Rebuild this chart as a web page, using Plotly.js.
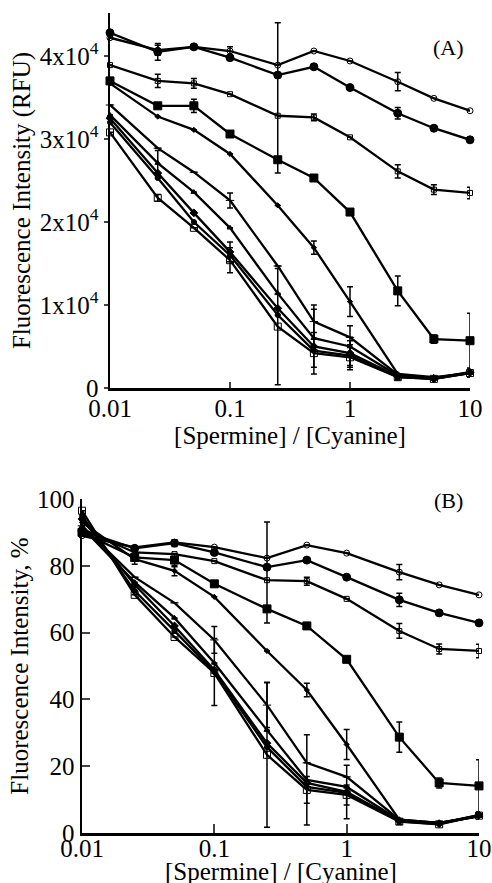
<!DOCTYPE html>
<html>
<head>
<meta charset="utf-8">
<script src="https://cdn.plot.ly/plotly-3.0.1.min.js"></script>
<style>html,body{margin:0;padding:0;background:#fff;}#chart{width:492px;height:883px;}</style>
</head>
<body>
<div id="chart"></div>
<script>
// Ratio [Spermine]/[Cyanine]
const ratio = [0.01, 0.025, 0.05, 0.1, 0.25, 0.5, 1, 2.5, 5, 10];

// Panel A: fluorescence intensity (RFU)
const rfuS1 = [42200, 40700, 41100, 40600, 38900, 40600, 39400, 36900, 34900, 33400];
const rfuS2 = [42800, 40500, 41100, 39800, 37700, 38700, 36200, 33100, 31300, 29900];
const rfuS3 = [38900, 37000, 36700, 35400, 32800, 32600, 30200, 26100, 23900, 23500];
const rfuS4 = [37000, 34000, 34000, 30600, 27500, 25300, 21200, 11700, 5900, 5700];
const rfuS5 = [36700, 32700, 31100, 28200, 22000, 16900, 10400, 1700, 1300, 1800];
const rfuS6 = [34100, 28900, 26000, 22600, 14700, 8000, 6100, 1600, 1200, 1900];
const rfuS7 = [32900, 27100, 23600, 19300, 11400, 6000, 5000, 1500, 1200, 1800];
const rfuS8 = [32500, 25900, 21100, 16400, 9600, 5000, 4200, 1400, 1100, 1900];
const rfuS9 = [32000, 25300, 20000, 16000, 8800, 4500, 3900, 1300, 1100, 1800];
const rfuS10 = [30800, 22900, 19300, 15400, 7400, 4200, 3700, 1300, 1100, 1800];

// Panel A error bars (plus / minus)
const rfuErrS1 = [0, 600, 0, 500, 0, 0, 0, 1100, 0, 0];
const rfuErrS2 = [0, 1000, 0, 0, 0, 0, 0, 700, 0, 0];
const rfuErrS3p = [0, 800, 600, 0, 11200, 400, 0, 800, 600, 700];
const rfuErrS3m = [0, 800, 600, 0, 6900, 400, 0, 800, 600, 700];
const rfuErrS4 = [0, 0, 800, 0, 0, 0, 0, 1800, 500, 3300];
const rfuErrS5 = [0, 0, 0, 0, 0, 800, 1800, 0, 0, 0];
const rfuErrS6 = [0, 0, 0, 900, 0, 2000, 0, 0, 0, 0];
const rfuErrS7 = [0, 1500, 0, 0, 0, 3500, 2500, 0, 0, 0];
const rfuErrS8 = [0, 0, 0, 1200, 0, 0, 1500, 0, 0, 0];
const rfuErrS9 = [0, 0, 0, 0, 0, 0, 0, 0, 0, 0];
const rfuErrS10 = [0, 400, 0, 1500, 7000, 2500, 1500, 300, 0, 500];

// Panel B: fluorescence intensity (%)
const pctS1 = [89, 85.5, 87, 85.6, 82.3, 86.2, 83.8, 78.1, 74.3, 71.3];
const pctS2 = [90.5, 85.2, 86.8, 84, 79.6, 81.7, 76.6, 69.8, 65.9, 62.9];
const pctS3 = [91, 84, 83.5, 81.4, 75.7, 75.4, 70.1, 60.5, 55.1, 54.5];
const pctS4 = [90, 82.5, 81.7, 74.6, 67.1, 62, 52, 28.7, 15, 14.1];
const pctS5 = [93, 82, 78.5, 70.7, 54.5, 42.8, 26.5, 4, 3, 5.2];
const pctS6 = [92, 76.6, 68.9, 57.8, 38.3, 21, 16.8, 4, 3, 5];
const pctS7 = [91.5, 75.1, 64.4, 50.9, 30.8, 15.9, 13.8, 3.8, 3, 5];
const pctS8 = [94, 74.3, 62, 48.8, 26.9, 15, 12.3, 3.6, 2.8, 5.4];
const pctS9 = [95, 72.5, 60.5, 48.2, 25.7, 13.8, 12, 3.5, 2.7, 5.3];
const pctS10 = [96.5, 71.3, 58.7, 47.9, 23.4, 12.9, 11.4, 3.4, 2.6, 5.2];

// Panel B error bars
const pctErrS1 = [0, 0, 0, 0, 0, 0, 0, 2.3, 0, 0];
const pctErrS2 = [0, 0, 1, 0, 0, 0, 0, 2, 0, 0];
const pctErrS3p = [0, 1.5, 0, 0, 17.4, 1.2, 0, 2.2, 1.5, 2];
const pctErrS3m = [0, 1.5, 0, 0, 12.8, 1.2, 0, 2.2, 1.5, 2];
const pctErrS4 = [0, 0, 2, 0, 0, 0, 0, 4.5, 1.5, 7.8];
const pctErrS5 = [0, 1.5, 1.5, 0, 0, 2, 4.5, 0, 0, 0];
const pctErrS6 = [0, 0, 0, 4, 6.7, 0, 0, 0, 0, 0];
const pctErrS7 = [0, 0, 0, 0, 0, 13.5, 0, 0, 0, 0];
const pctErrS8 = [0, 0, 0, 0, 0, 0, 8, 0, 0, 0];
const pctErrS9 = [0, 0, 0, 10, 0, 0, 0, 0, 0, 0];
const pctErrS10 = [0, 0, 0, 0, 21.7, 4, 3, 0.8, 0, 1];

// Axis tick labels and titles
const xTickVals = [0.01, 0.1, 1, 10];
const xTickText = ['0.01', '0.1', '1', '10'];
const yATickVals = [0, 10000, 20000, 30000, 40000];
const yATickText = ['0', '1x10<sup>4</sup>', '2x10<sup>4</sup>', '3x10<sup>4</sup>', '4x10<sup>4</sup>'];
const yBTickVals = [0, 20, 40, 60, 80, 100];
const yBTickText = ['0', '20', '40', '60', '80', '100'];
const xTitle = '[Spermine] / [Cyanine]';

const markerStyles = [
  {symbol: 'circle-open', size: 6},
  {symbol: 'circle', size: 8},
  {symbol: 'square-open', size: 5},
  {symbol: 'square', size: 8},
  {symbol: 'diamond', size: 4},
  {symbol: 'line-ew-open', size: 6},
  {symbol: 'triangle-up', size: 5},
  {symbol: 'diamond', size: 6},
  {symbol: 'circle', size: 5},
  {symbol: 'square-open', size: 7}
];

const seriesA = [rfuS1, rfuS2, rfuS3, rfuS4, rfuS5, rfuS6, rfuS7, rfuS8, rfuS9, rfuS10];
const errAp = [rfuErrS1, rfuErrS2, rfuErrS3p, rfuErrS4, rfuErrS5, rfuErrS6, rfuErrS7, rfuErrS8, rfuErrS9, rfuErrS10];
const errAm = [rfuErrS1, rfuErrS2, rfuErrS3m, rfuErrS4, rfuErrS5, rfuErrS6, rfuErrS7, rfuErrS8, rfuErrS9, rfuErrS10];
const seriesB = [pctS1, pctS2, pctS3, pctS4, pctS5, pctS6, pctS7, pctS8, pctS9, pctS10];
const errBp = [pctErrS1, pctErrS2, pctErrS3p, pctErrS4, pctErrS5, pctErrS6, pctErrS7, pctErrS8, pctErrS9, pctErrS10];
const errBm = [pctErrS1, pctErrS2, pctErrS3m, pctErrS4, pctErrS5, pctErrS6, pctErrS7, pctErrS8, pctErrS9, pctErrS10];

function mk(ys, ep, em, i, xa, ya) {
  const m = markerStyles[i];
  return {
    x: ratio, y: ys, xaxis: xa, yaxis: ya,
    type: 'scatter', mode: 'lines+markers', showlegend: false, cliponaxis: false,
    line: {color: '#000', width: 2.3},
    marker: {symbol: m.symbol, size: m.size, color: '#000', line: {color: '#000', width: 1}},
    error_y: {type: 'data', symmetric: false, array: ep, arrayminus: em,
              color: '#000', thickness: 1.5, width: 3}
  };
}

const traces = [];
seriesA.forEach((s, i) => traces.push(mk(s, errAp[i], errAm[i], i, 'x', 'y')));
seriesB.forEach((s, i) => traces.push(mk(s, errBp[i], errBm[i], i, 'x2', 'y2')));

const H = 883, W = 492;
const py = (px) => (H - px) / H;   // pixel row -> paper y
const fam = '"Liberation Serif", "Times New Roman", serif';
const font = {family: fam, size: 25, color: '#000'};
const tfont = {family: fam, size: 25, color: '#000'};
const lfont = {family: fam, size: 22, color: '#000'};

const layout = {
  width: W, height: H,
  margin: {l: 0, r: 0, t: 0, b: 0},
  paper_bgcolor: '#fff', plot_bgcolor: '#fff',
  font: font,
  showlegend: false,
  xaxis: {
    type: 'log', range: [-2, 1], domain: [110 / W, 470 / W], anchor: 'y',
    tickvals: xTickVals, ticktext: xTickText, ticks: 'inside', ticklen: 6, tickwidth: 2,
    ticklabelstandoff: -4,
    showline: true, linewidth: 2.5, linecolor: '#000', showgrid: false, zeroline: false,
    tickfont: tfont, automargin: false,
    title: {text: xTitle, font: font, standoff: 2}
  },
  yaxis: {
    range: [0, 45180], domain: [py(388), py(13)], anchor: 'x',
    tickvals: yATickVals, ticktext: yATickText, ticks: 'outside', ticklen: 4, tickwidth: 2,
    showline: true, linewidth: 2.5, linecolor: '#000', showgrid: false, zeroline: false,
    tickfont: tfont, automargin: false,
    title: {text: 'Fluorescence Intensity (RFU)', font: font, standoff: 2}
  },
  xaxis2: {
    type: 'log', range: [-2, 1], domain: [82 / W, 479 / W], anchor: 'y2',
    tickvals: xTickVals, ticktext: xTickText, ticks: 'inside', ticklen: 9, tickwidth: 2,
    ticklabelstandoff: -9,
    showline: true, linewidth: 2.5, linecolor: '#000', showgrid: false, zeroline: false,
    tickfont: tfont, automargin: false
  },
  yaxis2: {
    range: [0, 100], domain: [py(833), py(499)], anchor: 'x2',
    tickvals: yBTickVals, ticktext: yBTickText, ticks: 'inside', ticklen: 8, tickwidth: 2,
    showline: true, linewidth: 2.5, linecolor: '#000', showgrid: false, zeroline: false,
    tickfont: tfont, automargin: false,
    title: {text: 'Fluorescence Intensity, %', font: font, standoff: 2}
  },
  annotations: [
    {text: '(A)', xref: 'paper', yref: 'paper', x: 448 / W, y: py(48), showarrow: false,
     xanchor: 'center', yanchor: 'middle', font: lfont},
    {text: '(B)', xref: 'paper', yref: 'paper', x: 448 / W, y: py(500), showarrow: false,
     xanchor: 'center', yanchor: 'middle', font: lfont},
    {text: xTitle, xref: 'x2 domain', yref: 'paper', x: 0.5, y: py(887), showarrow: false,
     xanchor: 'center', yanchor: 'bottom', font: font}
  ]
};

Plotly.newPlot('chart', traces, layout, {displayModeBar: false, staticPlot: true});
</script>
</body>
</html>
